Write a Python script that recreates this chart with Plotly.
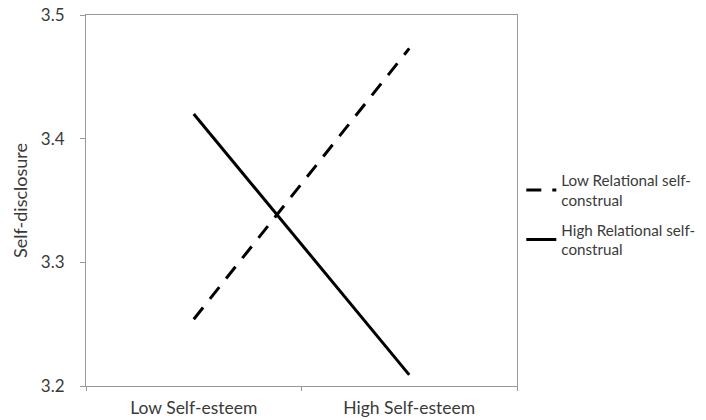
import plotly.graph_objects as go

categories = ["Low Self-esteem", "High Self-esteem"]
low_relational = [3.254, 3.473]
high_relational = [3.420, 3.209]
series_names = ["Low Relational self-<br>construal", "High Relational self-<br>construal"]
y_ticks = [3.2, 3.3, 3.4, 3.5]

FONT = "Lato, Open Sans, sans-serif"
TXT = "#3a3a3a"

fig = go.Figure()
fig.add_trace(go.Scatter(
    x=categories, y=low_relational, mode="lines", name=series_names[0],
    legendgroup="low",
    line=dict(color="black", width=3, dash="15px,11px")))
fig.add_trace(go.Scatter(
    x=categories, y=high_relational, mode="lines", name=series_names[1],
    legendgroup="high",
    line=dict(color="black", width=3)))

fig.update_layout(
    width=706, height=420,
    margin=dict(l=86, r=189, t=15, b=34, autoexpand=False),
    plot_bgcolor="white", paper_bgcolor="white",
    font=dict(family=FONT, size=16, color=TXT),
    showlegend=True,
    legend=dict(x=1.01, y=0.46, xanchor="left", yanchor="middle",
                font=dict(family=FONT, size=15.2, color=TXT),
                itemwidth=30, tracegroupgap=7, bgcolor="rgba(0,0,0,0)"),
    xaxis=dict(type="category", range=[-0.5, 1.5], tickson="boundaries",
               ticks="outside", ticklen=4, tickcolor="#999", automargin=False,
               showline=True, linecolor="#999", linewidth=1, mirror=True,
               showgrid=False, zeroline=False, ticklabelstandoff=6,
               tickfont=dict(family=FONT, size=17.5, color=TXT)),
    yaxis=dict(range=[3.2, 3.5], tickvals=y_ticks, ticktext=[f"{v:.1f}" for v in y_ticks],
               ticks="outside", ticklen=5, tickcolor="#999", automargin=False,
               showline=True, linecolor="#999", linewidth=1, mirror=True,
               showgrid=False, zeroline=False, ticklabelstandoff=12,
               ticklabeloverflow="allow",
               title=dict(text="Self-disclosure", standoff=8,
                          font=dict(family=FONT, size=18, color=TXT)),
               tickfont=dict(family=FONT, size=17, color=TXT)),
)

# remove the browser's default 8px body margin so the figure sits at the page corner
fig.write_html("out.html", config={"displayModeBar": False},
               post_script="document.body.style.margin='0';")
